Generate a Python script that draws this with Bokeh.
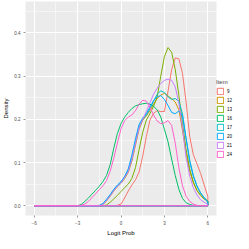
from bokeh.plotting import figure
from bokeh.models import FixedTicker, Legend, LegendItem, PrintfTickFormatter
from bokeh.embed import file_html
from bokeh.resources import INLINE

# x grid of the density estimates (x = -6 start, then -3 .. 6)
x_start = -6.0
x_grid = [-3, -2.75, -2.5, -2.25, -2, -1.75, -1.5, -1.25, -1, -0.75, -0.5, -0.25,
          0, 0.25, 0.5, 0.75, 1, 1.25, 1.5, 1.75, 2, 2.25, 2.5, 2.75, 3, 3.25,
          3.5, 3.75, 4, 4.25, 4.5, 4.75, 5, 5.25, 5.5, 5.75, 6]

items = ["9", "12", "13", "16", "17", "20", "21", "24"]
colors = ["#F8766D", "#CD9600", "#7CAE00", "#00BE67", "#00BFC4", "#00A9FF", "#C77CFF", "#FF61CC"]

d9 = [0, 0, 0, 0, 0, 0, 0, 0, 0, 0, 0, 0.001, 0.004, 0.018, 0.034, 0.048, 0.06, 0.078,
      0.115, 0.16, 0.198, 0.214, 0.22, 0.218, 0.218, 0.265, 0.315, 0.342, 0.34, 0.306,
      0.24, 0.16, 0.118, 0.097, 0.075, 0.048, 0.022]
d12 = [0, 0, 0, 0, 0, 0, 0, 0.003, 0.011, 0.022, 0.034, 0.044, 0.052, 0.063, 0.077, 0.103,
       0.14, 0.177, 0.198, 0.208, 0.22, 0.235, 0.248, 0.256, 0.26, 0.254, 0.248, 0.24,
       0.222, 0.175, 0.12, 0.08, 0.053, 0.035, 0.024, 0.016, 0.011]
d13 = [0, 0, 0, 0, 0, 0, 0, 0, 0.002, 0.008, 0.016, 0.024, 0.033, 0.042, 0.05, 0.063,
       0.088, 0.13, 0.17, 0.198, 0.213, 0.23, 0.252, 0.3, 0.345, 0.366, 0.355, 0.315,
       0.255, 0.19, 0.13, 0.085, 0.055, 0.036, 0.024, 0.016, 0.011]
d16 = [0, 0.003, 0.01, 0.018, 0.027, 0.036, 0.045, 0.056, 0.07, 0.095, 0.133, 0.167,
       0.19, 0.205, 0.216, 0.225, 0.231, 0.234, 0.236, 0.237, 0.235, 0.23, 0.222, 0.205,
       0.177, 0.148, 0.108, 0.07, 0.038, 0.017, 0.007, 0.003, 0.001, 0, 0, 0, 0]
d17 = [0, 0, 0, 0, 0, 0, 0, 0.004, 0.013, 0.024, 0.036, 0.046, 0.054, 0.066, 0.081, 0.11,
       0.148, 0.183, 0.2, 0.21, 0.224, 0.242, 0.258, 0.266, 0.262, 0.252, 0.246, 0.248,
       0.242, 0.212, 0.155, 0.105, 0.07, 0.046, 0.03, 0.019, 0.01]
d20 = [0, 0, 0, 0, 0, 0, 0.001, 0.005, 0.015, 0.026, 0.038, 0.048, 0.056, 0.068, 0.085,
       0.117, 0.155, 0.188, 0.203, 0.213, 0.228, 0.243, 0.252, 0.255, 0.246, 0.232, 0.216,
       0.213, 0.219, 0.208, 0.155, 0.102, 0.068, 0.045, 0.029, 0.018, 0.008]
d21 = [0, 0, 0, 0, 0, 0, 0, 0.003, 0.012, 0.023, 0.035, 0.045, 0.053, 0.065, 0.079, 0.107,
       0.145, 0.18, 0.2, 0.218, 0.238, 0.258, 0.272, 0.283, 0.29, 0.293, 0.29, 0.275,
       0.237, 0.18, 0.112, 0.068, 0.042, 0.025, 0.014, 0.008, 0.004]
d24 = [0, 0.001, 0.004, 0.01, 0.019, 0.028, 0.037, 0.046, 0.058, 0.08, 0.11, 0.145, 0.178,
       0.197, 0.205, 0.21, 0.22, 0.235, 0.244, 0.242, 0.228, 0.21, 0.196, 0.19, 0.192,
       0.197, 0.186, 0.145, 0.088, 0.046, 0.022, 0.01, 0.004, 0.001, 0, 0, 0]

densities = [d9, d12, d13, d16, d17, d20, d21, d24]

x_ticks = [-6, -3, 0, 3, 6]
x_minor = [-4.5, -1.5, 1.5, 4.5]
y_ticks = [0, 0.1, 0.2, 0.3, 0.4]
y_minor = [0.05, 0.15, 0.25, 0.35, 0.45]

FONT = "Liberation Sans"
FW, FH = 191, 214

p = figure(frame_width=FW, frame_height=FH, output_backend="svg", toolbar_location=None,
           x_range=(-6.6, 6.6), y_range=(-0.0225, 0.4725),
           min_border_left=1, min_border_right=0, min_border_top=1, min_border_bottom=1)
p.background_fill_color = "#EBEBEB"
p.border_fill_color = "white"
p.outline_line_color = None

p.xaxis.ticker = FixedTicker(ticks=x_ticks, minor_ticks=x_minor)
p.yaxis.ticker = FixedTicker(ticks=y_ticks, minor_ticks=y_minor)
p.yaxis.formatter = PrintfTickFormatter(format="%.1f")
for g in (p.xgrid, p.ygrid):
    g.grid_line_color = "white"
    g.grid_line_width = 1
    g.minor_grid_line_color = "white"
    g.minor_grid_line_width = 0.5
for ax in (p.xaxis, p.yaxis):
    ax.axis_line_color = None
    ax.major_tick_line_color = "#333333"
    ax.major_tick_line_width = 0.5
    ax.major_tick_in = 0
    ax.major_tick_out = 2
    ax.minor_tick_line_color = None
    ax.major_label_text_font = FONT
    ax.major_label_text_font_size = "4.5px"
    ax.major_label_text_color = "#4D4D4D"
    ax.major_label_standoff = 1
    ax.axis_label_text_font = FONT
    ax.axis_label_text_font_size = "6px"
    ax.axis_label_text_font_style = "normal"
    ax.axis_label_text_color = "black"
    ax.axis_label_standoff = 2
p.xaxis.axis_label = "Logit Prob"
p.yaxis.axis_label = "Density"

legend_items = []
for name, col, dens in zip(items, colors, densities):
    assert len(dens) == len(x_grid)
    xs = [x_start] + x_grid + [x_grid[-1]]
    ys = [0] + dens + [0]
    r = p.patch(xs, ys, fill_alpha=0, line_color=col, line_width=1)
    legend_items.append(LegendItem(label=name, renderers=[r]))

legend = Legend(items=legend_items, title="Item", location=(0, 57))
legend.title_text_font = FONT
legend.title_text_font_size = "6px"
legend.title_text_font_style = "normal"
legend.title_standoff = 2
legend.label_text_font = FONT
legend.label_text_font_size = "4.5px"
legend.label_text_color = "black"
legend.glyph_width = 8
legend.glyph_height = 8
legend.label_height = 8
legend.label_width = 6
legend.label_standoff = 3
legend.spacing = 1
legend.padding = 2
legend.margin = 3
legend.border_line_color = None
legend.background_fill_alpha = 0
p.add_layout(legend, "right")

open("out.html", "w").write(file_html(p, INLINE))
